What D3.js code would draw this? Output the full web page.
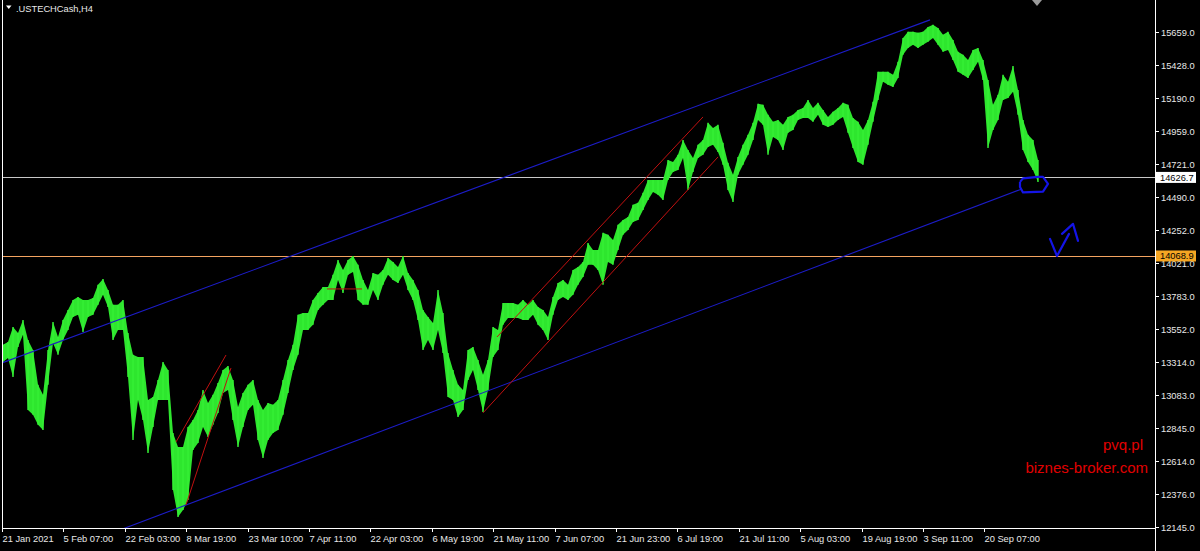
<!DOCTYPE html>
<html><head><meta charset="utf-8">
<script src="https://cdn.jsdelivr.net/npm/d3@7"></script>
<style>html,body{margin:0;padding:0;background:#000;overflow:hidden}svg{display:block}</style>
</head><body><svg id="c" width="1200" height="551"></svg>
<script>
const symbol = ".USTECHCash,H4";
const highs = [
13438,13459,13565,13523,13615,13473,13402,13154,13083,13402,
13601,13494,13615,13686,13757,13778,13757,13757,13771,13864,
13906,13828,13722,13722,13757,13523,13367,13352,13352,13047,
13068,13189,13317,13260,12813,12713,12713,12855,12905,12976,
13118,13026,13083,13168,13260,13288,13189,12997,13097,13154,
13189,13047,12976,13026,13012,13047,13189,13331,13438,13651,
13665,13665,13757,13807,13849,13849,13935,14041,13970,14041,
14069,14006,13899,13828,13949,13935,13970,14055,14027,13991,
14069,13949,13899,13828,13686,13636,13594,13828,13665,13381,
13260,13154,13118,13402,13423,13331,13225,13331,13565,13544,
13736,13736,13736,13722,13757,13722,13757,13707,13686,13636,
13778,13878,13899,13864,13970,13991,14027,14162,14112,14112,
14233,14219,14183,14290,14325,14346,14432,14446,14517,14609,
14609,14609,14609,14751,14737,14787,14893,14822,14765,14858,
14893,15014,14978,15000,14872,14730,14645,14772,14858,14929,
15014,15149,15142,15071,15021,15035,15000,15056,15071,15106,
15120,15177,15120,15156,15106,15056,15092,15120,15156,15142,
15049,15021,14964,15035,15163,15376,15376,15376,15355,15447,
15617,15660,15660,15653,15660,15695,15710,15688,15639,15660,
15603,15518,15497,15461,15532,15546,15461,15319,15142,15213,
15355,15305,15418,15248,15035,14929,14893,14751];
const lows = [
13317,13345,13210,13423,13509,12976,12941,12870,12834,13154,
13452,13367,13473,13544,13636,13651,13530,13636,13651,13722,
13793,13707,13473,13544,13544,13210,12763,13047,12905,12671,
12855,13047,13047,13047,12408,12216,12266,12337,12692,12742,
12855,12784,12870,12955,13097,13118,12905,12713,12855,12976,
13012,12763,12635,12763,12813,12834,12941,13097,13260,13367,
13544,13544,13580,13686,13722,13757,13757,13899,13807,13935,
13956,13757,13722,13722,13828,13757,13864,13935,13899,13878,
13935,13828,13757,13615,13402,13473,13402,13544,13381,13068,
13047,12926,12976,13189,13260,13118,12962,13118,13352,13402,
13580,13629,13629,13629,13615,13615,13651,13580,13544,13473,
13651,13757,13778,13757,13793,13864,13920,14006,14006,13970,
13864,14027,14006,14112,14219,14254,14311,14325,14396,14467,
14524,14503,14467,14609,14666,14680,14765,14538,14666,14765,
14787,14843,14858,14808,14716,14538,14453,14645,14716,14787,
14893,15035,15000,14787,14914,14893,14822,14943,14964,15035,
15049,15049,15021,15071,15000,14985,15000,15035,15056,14943,
14836,14737,14716,14858,15021,15177,15305,15284,15269,15333,
15497,15546,15568,15546,15568,15589,15617,15568,15518,15532,
15461,15376,15355,15333,15390,15447,15319,14836,14964,15035,
15177,15191,15234,15071,14822,14737,14680,14595];
const firstBar = 1, barsPerSample = 5, totalBars = 1153;
const timeLabels = ["21 Jan 2021","5 Feb 07:00","22 Feb 03:00","8 Mar 19:00","23 Mar 10:00","7 Apr 11:00","22 Apr 03:00","6 May 19:00","21 May 11:00","7 Jun 07:00","21 Jun 23:00","6 Jul 19:00","21 Jul 11:00","5 Aug 03:00","19 Aug 19:00","3 Sep 11:00","20 Sep 07:00"];
const timeLabelBars = [0,61,123,184,246,307,368,430,491,553,614,675,737,798,860,921,982];
const priceTicks = [15659,15428,15190,14959,14721,14490,14252,14021,13783,13552,13314,13083,12845,12614,12376,12145];
const bidPrice = 14626.7;
const levelPrice = 14068.9;
const blueChannel = [[[0,13310],[928,15745]], [[118,12124],[1020,14545]]];
const redLines = [
  [[174,12749],[224,13366]],
  [[184,12302],[229,13274]],
  [[325,13835],[360,13835]],
  [[495,13494],[701,15056]],
  [[481,12955],[716,14772]]
];
const ovalMark = [[1018,14595],[1021,14620],[1036,14630],[1041,14630],[1046,14581],[1041,14526],[1021,14520],[1018,14559],[1018,14595]];
const arrowStroke = [[1048,14190],[1055,14069],[1067,14226]];
const arrowHead = [[1060,14226],[1071,14297],[1076,14176]];
const watermark = ["pvq.pl","biznes-broker.com"];

const svg = d3.select("#c");
const L = 2, R = 1155, T = 0, B = 528;
const x = d3.scaleLinear().domain([0, totalBars]).range([L, R]);
const y = d3.scaleLinear().domain([12145, 15659]).range([527, 32]);
const data = highs.map((h,i)=>({bar: firstBar + i*barsPerSample, h, l: lows[i]}));
const font = "'Liberation Sans', Arial, sans-serif";

svg.append("rect").attr("width",1200).attr("height",551).attr("fill","#000");
const plot = svg.append("g");
plot.append("clipPath").attr("id","clip").append("rect").attr("x",L).attr("y",T).attr("width",R-L).attr("height",B-T);
const g = plot.append("g").attr("clip-path","url(#clip)");

// horizontal levels
g.append("line").attr("x1",L).attr("x2",R).attr("y1",Math.round(y(bidPrice))+0.5).attr("y2",Math.round(y(bidPrice))+0.5).attr("stroke","#c8c8c8").attr("stroke-width",1);
g.append("line").attr("x1",L).attr("x2",R).attr("y1",Math.round(y(levelPrice))+0.5).attr("y2",Math.round(y(levelPrice))+0.5).attr("stroke","#f4a460").attr("stroke-width",1.2);

// price band
const area = d3.area().x(d=>x(d.bar)).y0(d=>y(d.l)).y1(d=>y(d.h)).curve(d3.curveLinear);
g.append("path").datum(data).attr("d",area).attr("fill","#2ee62e");
g.selectAll("line.bar").data(data).join("line").attr("class","bar")
  .attr("x1",d=>x(d.bar)).attr("x2",d=>x(d.bar)).attr("y1",d=>y(d.h)).attr("y2",d=>y(d.l))
  .attr("stroke","#36f036").attr("stroke-width",1.4);

// trend lines
const ln = d3.line().x(d=>x(d[0])).y(d=>y(d[1]));
blueChannel.forEach(s=>g.append("path").attr("d",ln(s)).attr("stroke","#1c1cc8").attr("stroke-width",1.1).attr("fill","none"));
redLines.forEach(s=>g.append("path").attr("d",ln(s)).attr("stroke","#c01010").attr("stroke-width",1).attr("fill","none"));
g.append("path").attr("d",ln(ovalMark)).attr("stroke","#1414e6").attr("stroke-width",2.2).attr("fill","none").attr("stroke-linejoin","round");
g.append("path").attr("d",ln(arrowStroke)).attr("stroke","#1414e6").attr("stroke-width",2.2).attr("fill","none").attr("stroke-linejoin","round").attr("stroke-linecap","round");
g.append("path").attr("d",ln(arrowHead)).attr("stroke","#1414e6").attr("stroke-width",2.2).attr("fill","none").attr("stroke-linejoin","round").attr("stroke-linecap","round");

// frame
svg.append("line").attr("x1",L+0.5).attr("x2",L+0.5).attr("y1",0).attr("y2",B).attr("stroke","#fff");
svg.append("line").attr("x1",R+0.5).attr("x2",R+0.5).attr("y1",0).attr("y2",551).attr("stroke","#fff");
svg.append("line").attr("x1",L).attr("x2",R).attr("y1",B+0.5).attr("y2",B+0.5).attr("stroke","#fff");

// y axis ticks
const yt = svg.append("g");
priceTicks.forEach(p=>{
  const yy = Math.round(y(p))+0.5;
  yt.append("line").attr("x1",R).attr("x2",R+4).attr("y1",yy).attr("y2",yy).attr("stroke","#fff");
  yt.append("text").attr("x",R+6).attr("y",yy+3.5).text(p.toFixed(1)).attr("fill","#e8e8e8").attr("font-family",font).attr("font-size",9.3);
});
// x axis ticks
timeLabels.forEach((t,i)=>{
  const xx = Math.round(x(timeLabelBars[i]))+0.5;
  svg.append("line").attr("x1",xx).attr("x2",xx).attr("y1",B).attr("y2",B+4).attr("stroke","#fff");
  svg.append("text").attr("x",xx).attr("y",542).text(t).attr("fill","#e8e8e8").attr("font-family",font).attr("font-size",9.3);
});

// price labels
[[bidPrice,"#ffffff","#000"],[levelPrice,"#f5a623","#000"]].forEach(([p,bg,fg])=>{
  const yy = y(p);
  svg.append("rect").attr("x",R+1).attr("y",yy-5.5).attr("width",40).attr("height",11).attr("fill",bg);
  svg.append("text").attr("x",R+5).attr("y",yy+3.5).text(p.toFixed(1)).attr("fill",fg).attr("font-family",font).attr("font-size",9.3);
});

// title
svg.append("path").attr("d","M6,5.5 L11.5,5.5 L8.75,9 Z").attr("fill","#fff");
svg.append("text").attr("x",16).attr("y",11.5).text(symbol).attr("fill","#e8e8e8").attr("font-family",font).attr("font-size",9.3);
// shift marker
svg.append("path").attr("d","M1032,0 L1042,0 L1037,6 Z").attr("fill","#9a9a9a");

// watermark
svg.append("text").attr("x",1143).attr("y",450).attr("text-anchor","end").text(watermark[0]).attr("fill","#e00000").attr("font-family",font).attr("font-size",15);
svg.append("text").attr("x",1148).attr("y",473).attr("text-anchor","end").text(watermark[1]).attr("fill","#e00000").attr("font-family",font).attr("font-size",15);
</script></body></html>
